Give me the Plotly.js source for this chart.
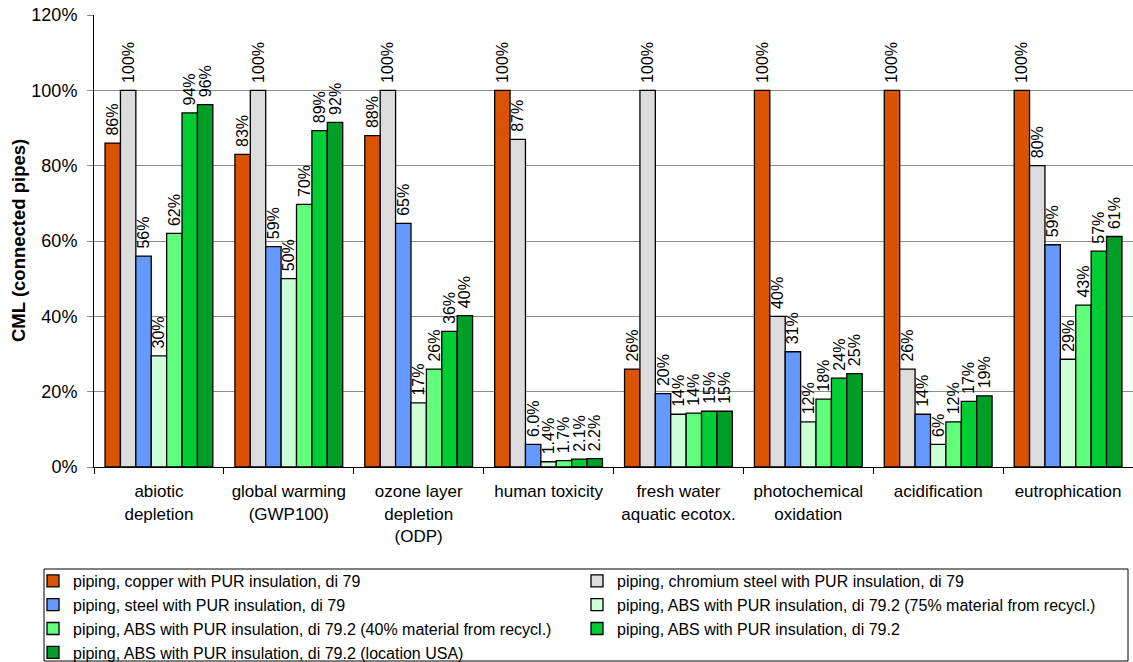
<!DOCTYPE html>
<html>
<head>
<meta charset="utf-8">
<script src="https://cdn.plot.ly/plotly-3.0.1.min.js"></script>
<style>html,body{margin:0;padding:0;background:#fff;}#chart{width:1133px;height:662px;}</style>
</head>
<body>
<div id="chart"></div>
<script>
const categories = ["abiotic<br>depletion", "global warming<br>(GWP100)", "ozone layer<br>depletion<br>(ODP)", "human toxicity", "fresh water<br>aquatic ecotox.", "photochemical<br>oxidation", "acidification", "eutrophication"];

const seriesNames = [
  "piping, copper with PUR insulation, di 79",
  "piping, chromium steel with PUR insulation, di 79",
  "piping, steel with PUR insulation, di 79",
  "piping, ABS with PUR insulation, di 79.2 (75% material from recycl.)",
  "piping, ABS with PUR insulation, di 79.2 (40% material from recycl.)",
  "piping, ABS with PUR insulation, di 79.2",
  "piping, ABS with PUR insulation, di 79.2 (location USA)"
];

const yTitle = "CML (connected pipes)";

const copper     = [86, 83, 88, 100, 26, 100, 100, 100];
const chromium   = [100, 100, 100, 87, 100, 40, 26, 80];
const steel      = [56, 58.5, 64.7, 6.0, 19.5, 30.6, 14, 59];
const abs75      = [29.5, 50, 17, 1.4, 14, 12, 6, 28.6];
const abs40      = [62, 69.7, 26, 1.7, 14.3, 18, 12, 43];
const abs        = [94, 89.3, 36, 2.1, 14.8, 23.6, 17.4, 57.3];
const absUSA     = [96.2, 91.5, 40.2, 2.2, 14.8, 24.8, 18.9, 61.2];

const copperLabels   = ["86%", "83%", "88%", "100%", "26%", "100%", "100%", "100%"];
const chromiumLabels = ["100%", "100%", "100%", "87%", "100%", "40%", "26%", "80%"];
const steelLabels    = ["56%", "59%", "65%", "6.0%", "20%", "31%", "14%", "59%"];
const abs75Labels    = ["30%", "50%", "17%", "1.4%", "14%", "12%", "6%", "29%"];
const abs40Labels    = ["62%", "70%", "26%", "1.7%", "14%", "18%", "12%", "43%"];
const absLabels      = ["94%", "89%", "36%", "2.1%", "15%", "24%", "17%", "57%"];
const absUSALabels   = ["96%", "92%", "40%", "2.2%", "15%", "25%", "19%", "61%"];

const yTicks = [0, 20, 40, 60, 80, 100, 120];

const colors = ["#D95300", "#DCDCDC", "#6699FF", "#CCFFD5", "#62FF7C", "#00CC33", "#009E26"];
const values = [copper, chromium, steel, abs75, abs40, abs, absUSA];
const labels = [copperLabels, chromiumLabels, steelLabels, abs75Labels, abs40Labels, absLabels, absUSALabels];
const legendColumn = ["legend", "legend2", "legend", "legend2", "legend", "legend2", "legend"];

const FONT = "Liberation Sans, Arial, sans-serif";

const traces = values.map((v, i) => ({
  type: "bar",
  name: seriesNames[i],
  legend: legendColumn[i],
  x: categories,
  y: v,
  text: labels[i].map(s => "\u00a0" + s),
  textposition: "outside",
  textangle: -90,
  constraintext: "none",
  cliponaxis: false,
  textfont: {family: FONT, size: 16, color: "#000"},
  marker: {color: colors[i], line: {color: "#000", width: 1.3}},
  hoverinfo: "none"
}));

const legendBase = {
  orientation: "v",
  xref: "container",
  yref: "container",
  y: 1 - 564 / 662,
  xanchor: "left",
  yanchor: "top",
  borderwidth: 0,
  bgcolor: "rgba(0,0,0,0)",
  font: {family: FONT, size: 16, color: "#000"},
  traceorder: "normal",
  tracegroupgap: 0
};

const layout = {
  width: 1133,
  height: 662,
  margin: {l: 94, r: 0, t: 15, b: 195, autoexpand: false},
  paper_bgcolor: "#fff",
  plot_bgcolor: "#fff",
  font: {family: FONT, color: "#000"},
  barmode: "group",
  bargap: 0.17,
  bargroupgap: 0,
  showlegend: true,
  xaxis: {
    type: "category",
    showline: true,
    linecolor: "#000",
    linewidth: 1,
    ticks: "outside",
    tickson: "boundaries",
    ticklen: 6,
    tickcolor: "#000",
    tickfont: {family: FONT, size: 17, color: "#000"},
    ticklabelstandoff: 9,
    showgrid: false,
    fixedrange: true
  },
  yaxis: {
    range: [0, 120],
    tickvals: yTicks,
    ticktext: yTicks.map(t => t + "%"),
    showline: true,
    linecolor: "#000",
    linewidth: 1,
    ticks: "outside",
    ticklen: 6,
    tickcolor: "#888",
    gridcolor: "#8c8c8c",
    gridwidth: 1,
    zeroline: false,
    tickfont: {family: FONT, size: 18, color: "#000"},
    ticklabelstandoff: 6,
    fixedrange: true
  },
  legend: Object.assign({}, legendBase, {x: 33 / 1133}),
  legend2: Object.assign({}, legendBase, {x: 577 / 1133}),
  annotations: [{
    text: "<b>" + yTitle + "</b>",
    textangle: -90,
    xref: "paper",
    yref: "paper",
    x: (18 - 94) / 1039,
    y: 0.5,
    xanchor: "center",
    yanchor: "middle",
    showarrow: false,
    font: {family: FONT, size: 18.5, color: "#000"}
  }],
  shapes: [{
    type: "rect",
    xref: "paper",
    yref: "paper",
    x0: (44 - 94) / 1039,
    x1: (1128 - 94) / 1039,
    y0: (467 - 661) / 452,
    y1: (467 - 569) / 452,
    line: {color: "#000", width: 1},
    fillcolor: "rgba(0,0,0,0)",
    layer: "below"
  }]
};

Plotly.newPlot("chart", traces, layout, {displayModeBar: false, staticPlot: true});
</script>
</body>
</html>
